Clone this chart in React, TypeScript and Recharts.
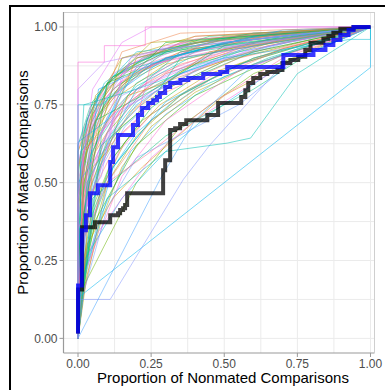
import { LineChart, Line, XAxis, YAxis, CartesianGrid } from "recharts";

// Axis ticks (proportions)
const axisTicks = [0, 0.25, 0.5, 0.75, 1];
const gridValues = [0, 0.125, 0.25, 0.375, 0.5, 0.625, 0.75, 0.875, 1];

// Thick step curve (blue) - nonmated FPR / mated TPR
const blueFpr = [0, 0, 0.013, 0.027, 0.041, 0.068, 0.11, 0.12, 0.137, 0.188, 0.205, 0.219, 0.24, 0.257, 0.27, 0.28, 0.298, 0.315, 0.35, 0.377, 0.428, 0.486, 0.51, 0.702, 0.805, 0.846, 0.873, 0.897, 0.925, 0.942, 1];
const blueTpr = [0.016, 0.17, 0.347, 0.395, 0.466, 0.492, 0.566, 0.614, 0.653, 0.685, 0.717, 0.74, 0.756, 0.765, 0.775, 0.788, 0.807, 0.82, 0.83, 0.836, 0.849, 0.855, 0.871, 0.91, 0.926, 0.942, 0.958, 0.974, 0.99, 1, 1];

// Thick step curve (dark grey)
const greyFpr = [0, 0, 0.014, 0.058, 0.11, 0.137, 0.144, 0.154, 0.161, 0.168, 0.291, 0.298, 0.315, 0.332, 0.349, 0.37, 0.442, 0.479, 0.558, 0.572, 0.582, 0.599, 0.623, 0.647, 0.682, 0.699, 0.726, 0.753, 0.777, 0.795, 0.839, 0.856, 0.873, 0.897, 0.942, 1];
const greyTpr = [0.016, 0.157, 0.357, 0.373, 0.395, 0.402, 0.412, 0.418, 0.428, 0.466, 0.54, 0.572, 0.669, 0.675, 0.688, 0.7, 0.717, 0.756, 0.775, 0.797, 0.82, 0.836, 0.849, 0.855, 0.862, 0.884, 0.894, 0.904, 0.926, 0.949, 0.962, 0.971, 0.981, 0.994, 1, 1];

// Individual examiner curves, [fpr, tpr] pairs
const examinerCurves: number[][][] = [
  [[0, 0], [0, 0.42], [0.02, 0.6], [0.06, 0.74], [0.15, 0.85], [0.3, 0.92], [0.55, 0.97], [1, 1]],
  [[0, 0], [0.01, 0.3], [0.04, 0.5], [0.1, 0.66], [0.22, 0.79], [0.4, 0.88], [0.7, 0.96], [1, 1]],
  [[0, 0], [0, 0.55], [0.03, 0.7], [0.08, 0.8], [0.18, 0.88], [0.35, 0.94], [0.6, 0.98], [1, 1]],
  [[0, 0], [0.02, 0.25], [0.07, 0.45], [0.14, 0.6], [0.25, 0.72], [0.45, 0.84], [0.7, 0.93], [1, 1]],
  [[0, 0], [0, 0.35], [0.03, 0.55], [0.07, 0.68], [0.14, 0.78], [0.3, 0.88], [0.6, 0.95], [1, 1]],
  [[0, 0], [0.01, 0.5], [0.05, 0.72], [0.12, 0.84], [0.25, 0.91], [0.5, 0.96], [1, 1]],
  [[0, 0], [0.03, 0.35], [0.08, 0.55], [0.16, 0.68], [0.3, 0.8], [0.5, 0.89], [0.75, 0.96], [1, 1]],
  [[0, 0], [0, 0.6], [0.03, 0.7], [0.08, 0.8], [0.2, 0.9], [0.4, 0.96], [1, 1]],
  [[0, 0], [0.01, 0.2], [0.05, 0.42], [0.12, 0.58], [0.22, 0.7], [0.38, 0.8], [0.6, 0.9], [1, 1]],
  [[0, 0], [0, 0.48], [0.04, 0.66], [0.1, 0.77], [0.2, 0.85], [0.4, 0.93], [0.7, 0.98], [1, 1]],
  [[0, 0], [0.02, 0.4], [0.06, 0.58], [0.12, 0.7], [0.25, 0.82], [0.45, 0.9], [0.7, 0.96], [1, 1]],
  [[0, 0], [0, 0.28], [0.02, 0.45], [0.06, 0.6], [0.15, 0.74], [0.3, 0.85], [0.55, 0.93], [1, 1]],
  [[0, 0], [0.01, 0.55], [0.04, 0.68], [0.1, 0.8], [0.22, 0.9], [0.45, 0.97], [1, 1]],
  [[0, 0], [0.02, 0.18], [0.08, 0.4], [0.18, 0.6], [0.3, 0.72], [0.5, 0.84], [0.75, 0.93], [1, 1]],
  [[0, 0], [0, 0.38], [0.03, 0.6], [0.09, 0.75], [0.2, 0.86], [0.4, 0.93], [0.75, 0.98], [1, 1]],
  [[0, 0], [0.01, 0.45], [0.03, 0.6], [0.08, 0.72], [0.16, 0.82], [0.35, 0.91], [0.6, 0.96], [1, 1]],
  [[0, 0], [0.02, 0.32], [0.05, 0.5], [0.1, 0.64], [0.2, 0.76], [0.35, 0.86], [0.6, 0.94], [1, 1]],
  [[0, 0], [0, 0.62], [0.04, 0.72], [0.12, 0.85], [0.3, 0.94], [1, 1]],
  [[0, 0], [0.01, 0.25], [0.04, 0.44], [0.09, 0.6], [0.18, 0.73], [0.32, 0.83], [0.55, 0.91], [1, 1]],
  [[0, 0], [0, 0.52], [0.02, 0.66], [0.05, 0.76], [0.12, 0.84], [0.28, 0.91], [0.55, 0.97], [1, 1]],
  [[0, 0], [0.03, 0.42], [0.1, 0.62], [0.2, 0.75], [0.35, 0.85], [0.55, 0.92], [1, 1]],
  [[0, 0], [0.01, 0.33], [0.03, 0.52], [0.08, 0.66], [0.16, 0.77], [0.28, 0.85], [0.5, 0.93], [1, 1]],
  [[0, 0], [0, 0.6], [0.05, 0.72], [0.15, 0.86], [0.35, 0.95], [1, 1]],
  [[0, 0], [0.02, 0.22], [0.06, 0.4], [0.12, 0.55], [0.25, 0.7], [0.4, 0.8], [0.65, 0.9], [1, 1]],
  [[0, 0], [0.01, 0.4], [0.04, 0.62], [0.1, 0.76], [0.25, 0.88], [0.5, 0.95], [1, 1]],
  [[0, 0], [0, 0.3], [0.05, 0.58], [0.1, 0.7], [0.2, 0.8], [0.35, 0.88], [0.65, 0.96], [1, 1]],
  [[0, 0], [0.02, 0.5], [0.06, 0.7], [0.15, 0.82], [0.3, 0.9], [0.6, 0.97], [1, 1]],
  [[0, 0], [0.01, 0.15], [0.04, 0.35], [0.1, 0.52], [0.2, 0.66], [0.35, 0.78], [0.55, 0.88], [0.8, 0.95], [1, 1]],
  [[0, 0], [0, 0.45], [0.02, 0.62], [0.06, 0.73], [0.14, 0.82], [0.3, 0.9], [0.6, 0.96], [1, 1]],
  [[0, 0], [0.03, 0.28], [0.08, 0.48], [0.16, 0.63], [0.28, 0.75], [0.45, 0.85], [0.7, 0.93], [1, 1]],
  [[0, 0], [0, 0.62], [0.04, 0.74], [0.12, 0.84], [0.3, 0.93], [0.6, 0.98], [1, 1]],
  [[0, 0], [0.01, 0.36], [0.05, 0.56], [0.12, 0.7], [0.24, 0.8], [0.42, 0.88], [0.7, 0.95], [1, 1]],
  [[0, 0], [0.02, 0.46], [0.05, 0.64], [0.11, 0.76], [0.22, 0.86], [0.42, 0.94], [1, 1]],
  [[0, 0], [0, 0.2], [0.03, 0.4], [0.08, 0.56], [0.15, 0.68], [0.3, 0.8], [0.5, 0.89], [0.8, 0.96], [1, 1]],
  [[0, 0], [0.01, 0.55], [0.03, 0.7], [0.08, 0.8], [0.18, 0.88], [0.4, 0.95], [1, 1]],
  [[0, 0], [0.02, 0.38], [0.07, 0.6], [0.15, 0.74], [0.3, 0.85], [0.5, 0.92], [0.8, 0.98], [1, 1]],
  [[0, 0], [0, 0.32], [0.04, 0.48], [0.1, 0.63], [0.2, 0.74], [0.4, 0.86], [0.65, 0.94], [1, 1]],
  [[0, 0], [0.01, 0.5], [0.05, 0.68], [0.12, 0.8], [0.3, 0.92], [1, 1]],
  [[0, 0], [0.02, 0.3], [0.06, 0.52], [0.13, 0.67], [0.26, 0.79], [0.45, 0.88], [0.7, 0.95], [1, 1]],
  [[0, 0], [0, 0.5], [0.03, 0.64], [0.09, 0.77], [0.2, 0.87], [0.45, 0.95], [1, 1]],
  [[0, 0], [0.04, 0.3], [0.1, 0.5], [0.2, 0.65], [0.35, 0.78], [0.55, 0.88], [0.8, 0.95], [1, 1]],
  [[0, 0], [0.01, 0.48], [0.03, 0.68], [0.09, 0.82], [0.2, 0.9], [0.45, 0.96], [1, 1]],
  [[0, 0], [0.02, 0.35], [0.04, 0.5], [0.09, 0.63], [0.18, 0.75], [0.33, 0.84], [0.6, 0.93], [1, 1]],
  [[0, 0], [0, 0.4], [0.02, 0.57], [0.07, 0.72], [0.17, 0.84], [0.35, 0.92], [0.7, 0.98], [1, 1]],
  [[0, 0], [0.05, 0.4], [0.12, 0.58], [0.25, 0.74], [0.4, 0.84], [0.6, 0.92], [1, 1]],
  [[0, 0], [0.01, 0.3], [0.05, 0.6], [0.15, 0.8], [0.3, 0.9], [0.6, 0.97], [1, 1]],
  [[0, 0], [0, 0.56], [0.02, 0.64], [0.08, 0.78], [0.18, 0.88], [0.4, 0.97], [1, 1]],
  [[0, 0], [0.03, 0.2], [0.08, 0.38], [0.15, 0.55], [0.25, 0.68], [0.4, 0.79], [0.6, 0.88], [1, 1]],
  [[0, 0], [0.01, 0.42], [0.04, 0.58], [0.1, 0.71], [0.2, 0.81], [0.38, 0.9], [0.7, 0.97], [1, 1]],
  [[0, 0], [0.02, 0.6], [0.06, 0.72], [0.16, 0.86], [0.4, 0.95], [1, 1]],
  [[0, 0], [0.015, 0.12], [0.1, 0.5], [0.25, 0.7], [0.45, 0.83], [0.7, 0.93], [1, 1]],
  [[0, 0], [0.01, 0.15], [0.06, 0.38], [0.2, 0.62], [0.4, 0.78], [0.7, 0.91], [1, 1]],
  [[0, 0], [0.005, 0.15], [0.12, 0.55], [0.3, 0.76], [0.6, 0.9], [1, 1]],
  [[0, 0], [0.01, 0.18], [0.15, 0.52], [0.3, 0.7], [0.55, 0.86], [1, 1]],
  [[0, 0], [0, 0.55], [0.05, 0.74], [0.15, 0.9], [0.4, 0.97], [1, 1]],
  [[0, 0], [0.08, 0.65], [0.2, 0.82], [0.4, 0.92], [1, 1]],
  [[0, 0], [0.02, 0.55], [0.15, 0.78], [0.5, 0.93], [1, 1]],
  [[0, 0], [0.01, 0.27], [0.05, 0.47], [0.15, 0.66], [0.3, 0.79], [0.55, 0.9], [1, 1]],
  [[0, 0], [0.01, 0.15], [0.2, 0.5], [0.35, 0.68], [0.6, 0.85], [1, 1]],
  [[0, 0], [0.02, 0.25], [0.15, 0.45], [0.3, 0.6], [0.45, 0.72], [0.7, 0.88], [1, 1]],
  [[0, 0], [0.01, 0.2], [0.06, 0.33], [0.25, 0.58], [0.4, 0.7], [0.6, 0.82], [0.85, 0.95], [1, 1]],
  [[0, 0], [0.03, 0.3], [0.12, 0.45], [0.22, 0.55], [0.5, 0.78], [0.8, 0.93], [1, 1]],
  [[0, 0], [0.05, 0.45], [0.3, 0.65], [0.6, 0.8], [0.8, 0.92], [1, 1]],
  [[0, 0], [0.02, 0.15], [0.1, 0.42], [0.2, 0.58], [0.55, 0.75], [0.75, 0.9], [1, 1]],
  [[0, 0], [0.01, 0.3], [0.1, 0.5], [0.25, 0.6], [0.45, 0.75], [0.7, 0.9], [1, 1]],
  [[0, 0], [0, 0.2], [0.02, 0.5], [0.15, 0.9], [0.4, 0.95], [1, 1]],
  [[0, 0], [0.01, 0.6], [0.05, 0.65], [0.1, 0.82], [0.2, 0.92], [1, 1]],
  [[0, 0], [0, 0.35], [0.1, 0.6], [0.15, 0.85], [0.45, 0.93], [1, 1]],
  [[0, 0], [0.02, 0.6], [0.12, 0.72], [0.2, 0.9], [0.5, 0.97], [1, 1]],
  [[0, 0], [0, 0.25], [0.06, 0.7], [0.3, 0.82], [0.5, 0.94], [1, 1]],
  [[0, 0], [0, 0.5], [0.04, 0.55], [0.07, 0.8], [0.3, 0.9], [0.7, 0.99], [1, 1]],
  [[0, 0], [0.01, 0.1], [0.03, 0.55], [0.2, 0.7], [0.25, 0.88], [0.6, 0.95], [1, 1]],
  [[0, 0], [0, 0.45], [0.06, 0.78], [0.25, 0.95], [1, 1]],
  [[0, 0], [0, 0.4], [0.02, 0.75], [0.2, 0.8], [0.35, 0.92], [1, 1]],
  [[0, 0], [0.04, 0.6], [0.08, 0.66], [0.18, 0.9], [0.4, 0.96], [1, 1]],
  [[0, 0], [0, 0.55], [0.1, 0.8], [0.15, 0.92], [0.35, 0.98], [1, 1]],
  [[0, 0], [0.02, 0.4], [0.1, 0.82], [0.2, 0.86], [0.3, 0.95], [1, 1]],
  [[0, 0], [0, 0.63], [0.1, 0.7], [0.2, 0.87], [0.5, 0.95], [1, 1]],
  [[0, 0], [0.01, 0.35], [0.02, 0.6], [0.25, 0.84], [0.35, 0.9], [0.8, 0.97], [1, 1]],
  [[0, 0], [0.05, 0.55], [0.1, 0.6], [0.17, 0.78], [0.3, 0.82], [0.45, 0.92], [1, 1]],
  [[0, 0], [0, 0.1], [0.04, 0.3], [0.08, 0.62], [0.25, 0.76], [0.35, 0.9], [1, 1]],
  [[0, 0], [0.03, 0.45], [0.08, 0.52], [0.12, 0.72], [0.4, 0.86], [0.6, 0.96], [1, 1]],
];

// Curves that stand apart from the bundle, with the hue they are drawn in
const outlierCurves: number[][][] = [
  [[0, 0], [0, 0.13], [1, 0.87], [1, 1]],
  [[0, 0], [0, 0.125], [0.11, 0.125], [0.36, 0.51], [0.45, 0.62], [0.7, 0.88], [1, 1]],
  [[0, 0], [0.28, 0.51], [0.4, 0.7], [0.6, 0.88], [1, 1]],
  [[0, 0], [0.02, 0.2], [0.1, 0.45], [0.3, 0.6], [0.51, 0.627], [0.59, 0.643], [0.75, 0.85], [1, 1]],
  [[0, 0], [0, 0.887], [0.09, 0.887], [0.09, 0.94], [0.23, 0.94], [0.23, 1], [1, 1]],
  [[0, 0], [0, 0.75], [0.08, 0.75], [0.25, 0.88], [0.5, 0.95], [1, 1]],
  [[0, 0], [0.03, 0.5], [0.2, 0.8], [0.5, 0.9], [0.93, 0.96], [1, 0.96], [1, 1]],
  [[0, 0], [0, 0.45], [0.05, 0.8], [0.15, 0.95], [0.25, 1], [1, 1]],
  [[0, 0], [0, 0.8], [0.09, 0.887], [0.3, 0.93], [1, 1]],
];
const outlierHues = [225, 262, 250, 185, 325, 195, 205, 300, 280];

// ggplot-style hue palette (hcl, c=100, l=65)
function hueColor(h: number) {
  const l = 65;
  const c = 100;
  const hr = (h * Math.PI) / 180;
  const u = c * Math.cos(hr);
  const v = c * Math.sin(hr);
  const Xn = 0.95047, Yn = 1, Zn = 1.08883;
  const den = Xn + 15 * Yn + 3 * Zn;
  const un = (4 * Xn) / den;
  const vn = (9 * Yn) / den;
  const Y = Yn * Math.pow((l + 16) / 116, 3);
  const up = u / (13 * l) + un;
  const vp = v / (13 * l) + vn;
  const X = (Y * 9 * up) / (4 * vp);
  const Z = (Y * (12 - 3 * up - 20 * vp)) / (4 * vp);
  const lin = [
    3.2406 * X - 1.5372 * Y - 0.4986 * Z,
    -0.9689 * X + 1.8758 * Y + 0.0415 * Z,
    0.0557 * X - 0.204 * Y + 1.057 * Z,
  ];
  return (
    "#" +
    lin
      .map((ch) => {
        const g = ch <= 0.0031308 ? 12.92 * ch : 1.055 * Math.pow(ch, 1 / 2.4) - 0.055;
        const n = Math.round(Math.min(1, Math.max(0, g)) * 255);
        return n.toString(16).padStart(2, "0");
      })
      .join("")
  );
}

const nCurves = examinerCurves.length;
const palette = examinerCurves.map((_, i) => hueColor(15 + (360 * i) / nCurves));
// spread colours so neighbouring curves differ
const colourOf = (i: number) => palette[(i * 23) % nCurves];

const X_DOMAIN: [number, number] = [-0.0496, 1.0137];
const Y_DOMAIN: [number, number] = [-0.047, 1.048];

const toPoints = (fpr: number[], tpr: number[]) => fpr.map((x, i) => ({ x, y: tpr[i] }));

const font = "'Liberation Sans', Arial, sans-serif";

const thinLine = (key: string, pts: number[][], colour: string) => (
  <Line
    key={key}
    data={pts.map(([x, y]) => ({ x, y }))}
    dataKey="y"
    type="linear"
    stroke={colour}
    strokeWidth={0.65}
    strokeOpacity={0.8}
    dot={false}
    activeDot={false}
    isAnimationActive={false}
  />
);

export default function App() {
  const W = 385;
  const H = 390;
  const margin = { top: 12, right: 10.5, left: 0, bottom: 0 };
  const yAxisWidth = 63.5;
  const xAxisHeight = 37;
  const plotLeft = margin.left + yAxisWidth;
  const plotTop = margin.top;
  const plotW = W - plotLeft - margin.right;
  const plotH = H - margin.top - margin.bottom - xAxisHeight;

  return (
    <div style={{ position: "fixed", left: 0, top: 0, width: W, height: H, background: "#fff", overflow: "hidden", fontFamily: font }}>
      <div
        style={{
          position: "absolute",
          left: 9,
          top: 5,
          width: 420,
          height: 420,
          border: "2.2px solid #000",
          boxSizing: "border-box",
        }}
      />
      <LineChart width={W} height={H} margin={margin}>
        <CartesianGrid
          stroke="#ebebeb"
          strokeWidth={1}
          verticalCoordinatesGenerator={({ offset }: any) =>
            gridValues.map((v) => offset.left + ((v - X_DOMAIN[0]) / (X_DOMAIN[1] - X_DOMAIN[0])) * offset.width)
          }
          horizontalCoordinatesGenerator={({ offset }: any) =>
            gridValues.map((v) => offset.top + ((Y_DOMAIN[1] - v) / (Y_DOMAIN[1] - Y_DOMAIN[0])) * offset.height)
          }
        />
        <XAxis
          dataKey="x"
          type="number"
          domain={X_DOMAIN}
          allowDataOverflow
          ticks={axisTicks}
          tickFormatter={(v: number) => v.toFixed(2)}
          height={xAxisHeight}
          tickSize={4}
          tickMargin={2}
          axisLine={{ stroke: "#9a9a9a", strokeWidth: 1.2 }}
          tickLine={{ stroke: "#9a9a9a" }}
          tick={{ fill: "#4d4d4d", fontSize: 12, fontFamily: font }}
          label={{
            content: () => (
              <text x={223} y={383} textAnchor="middle" fontSize={15} fontFamily={font} fill="#000">
                Proportion of Nonmated Comparisons
              </text>
            ),
          }}
        />
        <YAxis
          dataKey="y"
          type="number"
          domain={Y_DOMAIN}
          allowDataOverflow
          ticks={axisTicks}
          tickFormatter={(v: number) => v.toFixed(2)}
          width={yAxisWidth}
          tickSize={4}
          tickMargin={2}
          axisLine={{ stroke: "#9a9a9a", strokeWidth: 1.2 }}
          tickLine={{ stroke: "#9a9a9a" }}
          tick={{ fill: "#4d4d4d", fontSize: 12, fontFamily: font }}
          label={{
            content: () => (
              <text
                x={22}
                y={182.5}
                transform="rotate(-90 22 182.5)"
                textAnchor="middle"
                dominantBaseline="central"
                fontSize={15}
                fontFamily={font}
                fill="#000"
              >
                Proportion of Mated Comparisons
              </text>
            ),
          }}
        />
        {examinerCurves.map((pts, i) => thinLine(`ex-${i}`, pts, colourOf(i)))}
        {outlierCurves.map((pts, i) => thinLine(`out-${i}`, pts, hueColor(outlierHues[i])))}
        <Line
          data={toPoints(greyFpr, greyTpr)}
          dataKey="y"
          type="stepAfter"
          stroke="#000"
          strokeOpacity={0.75}
          strokeWidth={4}
          dot={false}
          activeDot={false}
          isAnimationActive={false}
        />
        <Line
          data={toPoints(blueFpr, blueTpr)}
          dataKey="y"
          type="stepAfter"
          stroke="#0000ff"
          strokeOpacity={0.78}
          strokeWidth={4}
          dot={false}
          activeDot={false}
          isAnimationActive={false}
        />
      </LineChart>
      <div
        style={{
          position: "absolute",
          left: plotLeft,
          top: plotTop,
          width: plotW,
          height: plotH,
          borderTop: "1px solid #cfcfcf",
          borderRight: "1px solid #cfcfcf",
          boxSizing: "border-box",
          pointerEvents: "none",
        }}
      />
    </div>
  );
}
